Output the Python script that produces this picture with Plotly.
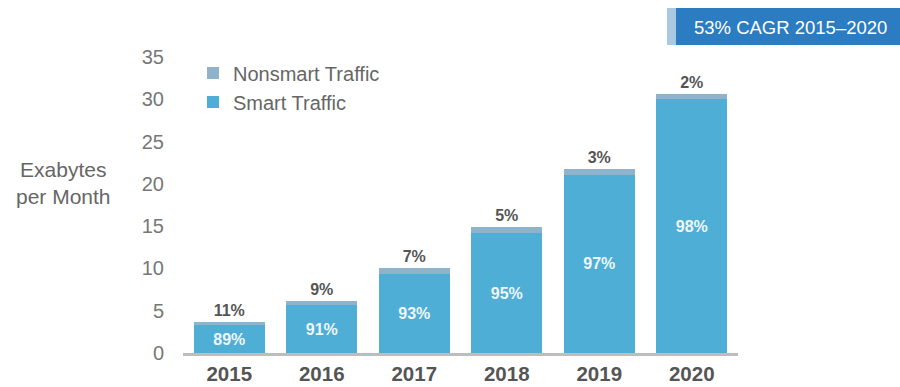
import plotly.graph_objects as go

# Global mobile data traffic, exabytes per month
years = ["2015", "2016", "2017", "2018", "2019", "2020"]
total_traffic = [3.7, 6.2, 10.0, 14.9, 21.7, 30.6]
smart_share = [89, 91, 93, 95, 97, 98]
nonsmart_share = [11, 9, 7, 5, 3, 2]

smart_traffic = [t * s / 100 for t, s in zip(total_traffic, smart_share)]
nonsmart_traffic = [t * n / 100 for t, n in zip(total_traffic, nonsmart_share)]

FONT = "Liberation Sans, Arial, sans-serif"
SMART_COLOR = "#4eaed6"
NONSMART_COLOR = "#8fb3cb"

# Plot-area geometry in pixels, used to place the banner in paper units
L, R, T, B = 183, 162, 57, 34
PW, PH = 900 - L - R, 387 - T - B


def px_x(px):
    return (px - L) / PW


def px_y(py):
    return (387 - B - py) / PH


fig = go.Figure()

fig.add_trace(go.Bar(
    x=years, y=smart_traffic, name="Smart Traffic",
    marker=dict(color=SMART_COLOR, line=dict(width=0)),
    text=[f"<b>{s}%</b>" for s in smart_share],
    textposition="inside", insidetextanchor="middle",
    textfont=dict(family=FONT, size=16, color="#eef6fb"),
    width=0.77,
))
fig.add_trace(go.Bar(
    x=years, y=nonsmart_traffic, name="Nonsmart Traffic",
    marker=dict(color=NONSMART_COLOR, line=dict(width=0)),
    text=[f"<b>{n}%</b>" for n in nonsmart_share],
    textposition="outside",
    textfont=dict(family=FONT, size=16, color="#555555"),
    cliponaxis=False,
    width=0.77,
))

fig.update_layout(
    barmode="stack",
    width=900, height=387,
    margin=dict(l=L, r=R, t=T, b=B),
    paper_bgcolor="white", plot_bgcolor="white",
    font=dict(family=FONT, color="#777777"),
    showlegend=True,
    legend=dict(
        x=0.018, y=1.012, xanchor="left", yanchor="top",
        bgcolor="rgba(0,0,0,0)",
        font=dict(family=FONT, size=20, color="#666666"),
        itemwidth=30, tracegroupgap=1,
    ),
    uniformtext=dict(mode=False),
)

fig.update_xaxes(
    showgrid=False, zeroline=False, automargin=False,
    showline=True, linecolor="#bdbdbd", linewidth=3,
    ticks="", range=[-0.5, 5.5],
    tickfont=dict(family=FONT, size=20.5, color="#555555"),
    tickprefix="<b>", ticksuffix="</b>",
    ticklabelstandoff=0,
)
fig.update_yaxes(
    range=[0, 35], dtick=5, showgrid=False, zeroline=False,
    showline=False, ticks="", automargin=False,
    tickfont=dict(family=FONT, size=20, color="#777777"),
    ticklabelstandoff=18,
)

# Axis title drawn horizontally to the left of the tick labels
fig.add_annotation(
    xref="paper", yref="paper", x=px_x(63), y=px_y(183),
    xanchor="center", yanchor="middle",
    text="Exabytes<br>per Month", showarrow=False, align="center",
    font=dict(family=FONT, size=21, color="#666666"),
)

# CAGR banner in the top-right corner
fig.add_shape(type="rect", xref="paper", yref="paper",
              x0=px_x(667), x1=px_x(676), y0=px_y(45), y1=px_y(8),
              fillcolor="#a9c9e2", line=dict(width=0), layer="above")
fig.add_shape(type="rect", xref="paper", yref="paper",
              x0=px_x(676), x1=px_x(900), y0=px_y(45), y1=px_y(8),
              fillcolor="#2b7cc1", line=dict(width=0), layer="above")
fig.add_annotation(
    xref="paper", yref="paper", x=px_x(790), y=px_y(28),
    xanchor="center", yanchor="middle", showarrow=False,
    text="53% CAGR 2015\u20132020",
    font=dict(family=FONT, size=18.5, color="white"),
)

fig.write_html("out.html")
